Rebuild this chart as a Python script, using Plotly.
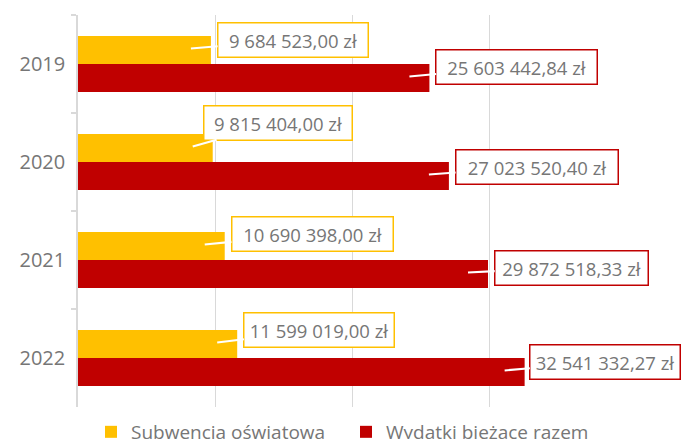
import plotly.graph_objects as go

years = ["2019", "2020", "2021", "2022"]
subwencja = [9684523.00, 9815404.00, 10690398.00, 11599019.00]
wydatki = [25603442.84, 27023520.40, 29872518.33, 32541332.27]
series_names = ["Subwencja oświatowa", "Wydatki bieżące razem"]

YELLOW = "#FFC000"
RED = "#C00000"
GRID = "#D9D9D9"
TEXT = "#767676"
FONT = "Open Sans"

# label box centre offsets (px) relative to bar end / bar centre, and box widths
lab_off_y = [(82, -10), (65, -25.5), (87.5, -12), (82, -14)]
lab_off_r = [(87.5, -11.5), (88, -9.5), (83.5, -6.5), (80.5, -10.5)]
box_w_y = [152, 150, 163, 152]
box_w_r = [163, 164, 155, 152]
TIP_DX, TIP_DY = -20, -1.5
BAR_HALF = 14
PAD, BW = 4, 1.5


def fmt(v):
    s = f"{v:,.2f}"
    return s.replace(",", " ").replace(".", ",") + " zł"


fig = go.Figure()
fig.add_trace(go.Bar(y=years, x=subwencja, orientation="h", name=series_names[0],
                     marker=dict(color=YELLOW, line=dict(width=0)), hoverinfo="skip"))
fig.add_trace(go.Bar(y=years, x=wydatki, orientation="h", name=series_names[1],
                     marker=dict(color=RED, line=dict(width=0)), hoverinfo="skip"))

annotations = []
for vals, offs, widths, col, sub in [(subwencja, lab_off_y, box_w_y, YELLOW, -1),
                                     (wydatki, lab_off_r, box_w_r, RED, 1)]:
    for i, (v, (dx, dy), bw) in enumerate(zip(vals, offs, widths)):
        annotations.append(dict(
            x=v, y=i, xref="x", yref="y", text=fmt(v),
            showarrow=True, arrowhead=0, arrowwidth=2.2, arrowcolor="white",
            ax=dx - TIP_DX, ay=dy - TIP_DY,
            xshift=TIP_DX, yshift=-(sub * BAR_HALF + TIP_DY),
            width=bw - 2 * PAD - 2 * BW,
            bgcolor="white", bordercolor=col, borderwidth=BW, borderpad=PAD,
            font=dict(family=FONT, size=18.5, color=TEXT),
        ))

fig.update_layout(
    width=682, height=439,
    margin=dict(l=78, r=55, t=15, b=32, autoexpand=False),
    paper_bgcolor="white", plot_bgcolor="white",
    barmode="group", bargap=0.43, bargroupgap=0,
    font=dict(family=FONT, color=TEXT),
    showlegend=True,
    legend=dict(orientation="h", x=0.1334, xanchor="left", xref="container",
                yref="container", y=0.016, yanchor="middle",
                entrywidth=210, entrywidthmode="pixels",
                font=dict(family=FONT, size=19, color=TEXT), traceorder="normal"),
    annotations=annotations,
    xaxis=dict(range=[0, 40e6], dtick=10e6, showticklabels=False, showgrid=True,
               gridcolor=GRID, gridwidth=1.3, zeroline=False, showline=False,
               automargin=False),
    yaxis=dict(autorange="reversed", type="category", categoryorder="array",
               categoryarray=years, showline=True, linecolor=GRID, automargin=False,
               linewidth=1.5, ticks="outside", tickson="boundaries", ticklen=5,
               tickcolor=GRID, tickwidth=1.5, showgrid=False, ticklabelstandoff=7,
               tickfont=dict(family=FONT, size=20, color=TEXT)),
)

fig.write_html("out.html", config={"displayModeBar": False},
               post_script="document.body.style.margin='0';document.body.style.overflow='hidden';")
